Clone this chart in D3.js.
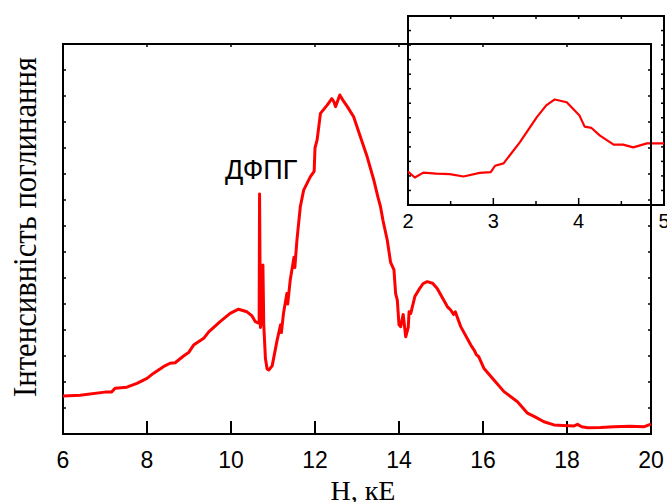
<!DOCTYPE html>
<html><head><meta charset="utf-8">
<script src="https://cdn.jsdelivr.net/npm/d3@7"></script>
<style>html,body{margin:0;padding:0;background:#fff;}svg{display:block;}</style>
</head><body>
<svg id="c" width="667" height="502"></svg>
<script>
// ---- data ----
const mainH = [6.00,6.41,7.04,7.16,7.24,7.52,7.76,8.00,8.15,8.39,8.55,8.67,8.87,8.99,9.11,9.35,9.47,9.74,9.98,10.18,10.38,10.50,10.58,10.66,10.67,10.68,10.70,10.73,10.76,10.78,10.82,10.86,10.90,10.98,11.10,11.18,11.20,11.25,11.33,11.35,11.41,11.50,11.52,11.57,11.65,11.73,11.89,11.98,12.00,12.05,12.13,12.29,12.40,12.45,12.49,12.59,12.68,12.77,12.92,13.08,13.24,13.40,13.50,13.56,13.62,13.72,13.80,13.88,13.92,13.96,14.00,14.04,14.10,14.16,14.22,14.24,14.28,14.38,14.47,14.57,14.67,14.80,14.91,15.03,15.15,15.23,15.30,15.34,15.47,15.71,15.80,15.84,15.90,16.02,16.26,16.50,16.82,17.06,17.25,17.45,17.69,17.90,18.17,18.25,18.35,18.49,18.80,19.12,19.50,19.84,20.00];
const mainV = [1.46,1.49,1.62,1.62,1.76,1.80,1.95,2.14,2.33,2.59,2.72,2.74,3.00,3.13,3.42,3.68,3.93,4.32,4.64,4.80,4.70,4.54,4.32,4.26,4.30,9.23,4.10,4.40,6.50,4.20,2.90,2.50,2.46,2.62,3.62,4.20,3.90,4.64,5.40,5.00,5.92,6.80,6.40,7.46,8.74,9.38,9.90,10.10,11.00,11.31,12.33,12.65,12.90,12.78,12.59,13.04,12.80,12.59,12.20,11.43,10.67,9.77,9.10,8.74,8.20,7.46,6.60,6.31,5.40,5.15,4.20,4.13,4.60,3.74,4.10,4.70,4.64,5.30,5.54,5.78,5.86,5.80,5.60,5.25,4.90,4.77,4.60,4.70,4.13,3.42,3.20,3.05,2.97,2.53,2.08,1.63,1.24,0.80,0.65,0.47,0.35,0.33,0.31,0.37,0.28,0.24,0.25,0.28,0.30,0.28,0.38];
const xTicks = [6,8,10,12,14,16,18,20];

const insetH = [2.00,2.08,2.18,2.33,2.49,2.65,2.84,2.97,3.02,3.12,3.31,3.51,3.62,3.72,3.86,4.01,4.07,4.15,4.25,4.41,4.52,4.64,4.80,5.00];
const insetV = [2.30,1.89,2.23,2.16,2.12,1.96,2.21,2.26,2.70,2.86,4.31,6.04,6.85,7.26,7.07,6.15,5.39,5.30,4.77,4.15,4.15,3.96,4.24,4.24];
const insetTicks = [2,3,4,5];

const yLabel = "Інтенсивність поглинання";
const xLabel = "H, кЕ";
const markLabel = "ДФПГ";

// ---- drawing ----
const svg = d3.select("#c");
const M = {l:63, r:651, t:44, b:434};
const x = d3.scaleLinear().domain([6,20]).range([M.l, M.r]);
const y = d3.scaleLinear().domain([0,15]).range([M.b, M.t]);

const I = {l:408, r:664, t:16, b:205};
const xi = d3.scaleLinear().domain([2,5]).range([I.l, I.r]);
const yi = d3.scaleLinear().domain([0,13]).range([I.b, I.t]);

// inset (drawn first, under the main frame)
const gi = svg.append("g");
gi.append("rect").attr("x",I.l).attr("y",I.t).attr("width",I.r-I.l).attr("height",I.b-I.t)
  .attr("fill","none").attr("stroke","#000").attr("stroke-width",2);
gi.append("g").attr("transform",`translate(0,${I.b})`)
  .call(d3.axisBottom(xi).tickValues([2,2.5,3,3.5,4,4.5,5]).tickSizeInner(0).tickSizeOuter(0).tickFormat(""))
  .call(g=>{g.select(".domain").remove();g.selectAll(".tick line").remove();});
// inset ticks via scales
gi.selectAll("line.ixb").data([2,2.5,3,3.5,4,4.5,5]).join("line")
  .attr("x1",d=>xi(d)).attr("x2",d=>xi(d)).attr("y1",I.b).attr("y2",d=>I.b-(d%1===0?7:4))
  .attr("stroke","#000").attr("stroke-width",1.5);
gi.selectAll("line.ixt").data([2.5,3,3.5,4,4.5]).join("line")
  .attr("x1",d=>xi(d)).attr("x2",d=>xi(d)).attr("y1",I.t).attr("y2",I.t+3)
  .attr("stroke","#000").attr("stroke-width",1.5);
gi.selectAll("line.iyl").data(d3.range(1,13)).join("line")
  .attr("x1",I.l).attr("x2",I.l+3).attr("y1",d=>yi(d)).attr("y2",d=>yi(d))
  .attr("stroke","#000").attr("stroke-width",1.5);
gi.selectAll("line.iyr").data(d3.range(1,13)).join("line")
  .attr("x1",I.r).attr("x2",I.r-3).attr("y1",d=>yi(d)).attr("y2",d=>yi(d))
  .attr("stroke","#000").attr("stroke-width",1.5);
gi.selectAll("text.it").data(insetTicks).join("text")
  .attr("x",d=>xi(d)).attr("y",I.b+23).attr("text-anchor","middle")
  .attr("font-family","'Liberation Sans', Arial, sans-serif").attr("font-size",20).attr("fill","#000")
  .text(d=>d);
const lineI = d3.line().x(d=>xi(d[0])).y(d=>yi(d[1]));
gi.append("path").datum(insetH.map((h,i)=>[h,insetV[i]]))
  .attr("d",lineI).attr("fill","none").attr("stroke","#ff0000").attr("stroke-width",2.2)
  .attr("stroke-linejoin","round");

// main frame
const g = svg.append("g");
g.append("rect").attr("x",M.l).attr("y",M.t).attr("width",M.r-M.l).attr("height",M.b-M.t)
  .attr("fill","none").attr("stroke","#000").attr("stroke-width",2);
g.selectAll("line.xb").data(xTicks.slice(1,-1)).join("line")
  .attr("x1",d=>x(d)).attr("x2",d=>x(d)).attr("y1",M.b).attr("y2",M.b-13)
  .attr("stroke","#000").attr("stroke-width",2);
g.selectAll("line.xt").data(xTicks.slice(1,-1)).join("line")
  .attr("x1",d=>x(d)).attr("x2",d=>x(d)).attr("y1",M.t).attr("y2",M.t+3)
  .attr("stroke","#000").attr("stroke-width",1.5);
g.selectAll("line.yl").data(d3.range(1,15)).join("line")
  .attr("x1",M.l).attr("x2",M.l+3).attr("y1",d=>y(d)).attr("y2",d=>y(d))
  .attr("stroke","#000").attr("stroke-width",1.5);
g.selectAll("line.yr").data(d3.range(1,15)).join("line")
  .attr("x1",M.r).attr("x2",M.r-3).attr("y1",d=>y(d)).attr("y2",d=>y(d))
  .attr("stroke","#000").attr("stroke-width",1.5);
g.selectAll("text.xt").data(xTicks).join("text")
  .attr("x",d=>x(d)).attr("y",468).attr("text-anchor","middle")
  .attr("font-family","'Liberation Sans', Arial, sans-serif").attr("font-size",23).attr("fill","#000")
  .text(d=>d);

const line = d3.line().x(d=>x(d[0])).y(d=>y(d[1]));
g.append("path").datum(mainH.map((h,i)=>[h,mainV[i]]))
  .attr("d",line).attr("fill","none").attr("stroke","#ff0000").attr("stroke-width",3)
  .attr("stroke-linejoin","round");

// labels
svg.append("text").attr("x",363).attr("y",500).attr("text-anchor","middle")
  .attr("font-family","'Liberation Serif', 'Times New Roman', serif").attr("font-size",28).attr("fill","#000")
  .text(xLabel);
svg.append("text").attr("transform","translate(36,227) rotate(-90)").attr("text-anchor","middle")
  .attr("font-family","'Liberation Serif', 'Times New Roman', serif").attr("font-size",33).attr("fill","#000")
  .attr("textLength",340).attr("lengthAdjust","spacingAndGlyphs")
  .text(yLabel);
svg.append("text").attr("x",225).attr("y",179)
  .attr("font-family","'Liberation Sans', Arial, sans-serif").attr("font-size",27).attr("fill","#000")
  .text(markLabel);
</script>
</body></html>
